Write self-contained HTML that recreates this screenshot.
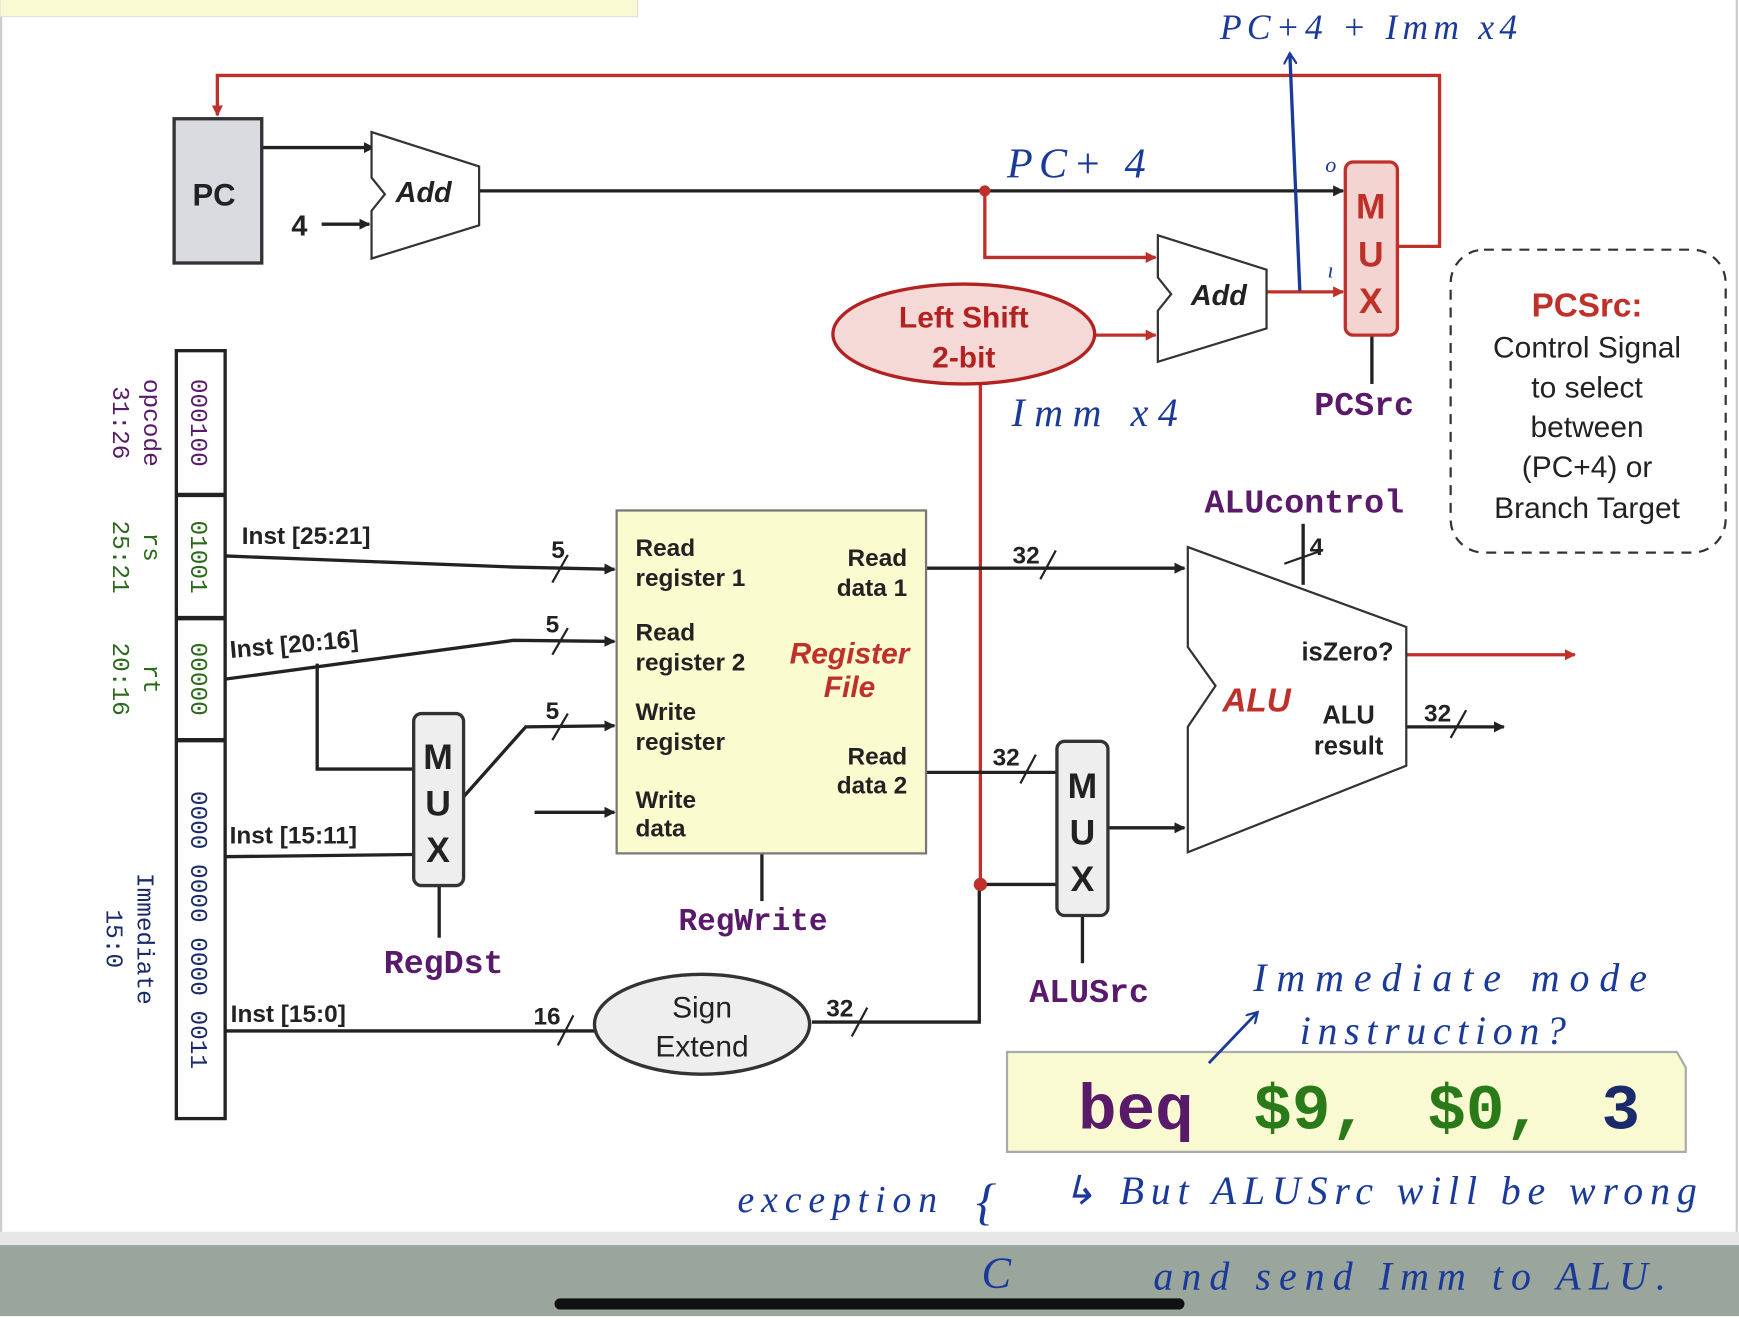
<!DOCTYPE html>
<html><head><meta charset="utf-8"><style>
html,body{margin:0;padding:0;background:#fff;}
svg{display:block;}
.b{font-family:"Liberation Sans",sans-serif;font-weight:bold;}
.m{font-family:"Liberation Mono",monospace;font-weight:bold;}
.h{font-family:"Liberation Serif",serif;font-style:italic;fill:#1a3a9a;}
</style></head><body>
<svg width="1739" height="1325" viewBox="0 0 1568 1194" preserveAspectRatio="none" xmlns="http://www.w3.org/2000/svg">
<defs>
<marker id="ak" markerWidth="10" markerHeight="10" refX="9" refY="5" orient="auto" markerUnits="userSpaceOnUse"><path d="M0,0 L10,5 L0,10 z" fill="#222"/></marker>
<marker id="ar" markerWidth="10" markerHeight="10" refX="9" refY="5" orient="auto" markerUnits="userSpaceOnUse"><path d="M0,0 L10,5 L0,10 z" fill="#c0302a"/></marker>
<marker id="ab" markerWidth="12" markerHeight="12" refX="10" refY="6" orient="auto" markerUnits="userSpaceOnUse"><path d="M0,0 L10,6 L0,12" fill="none" stroke="#1a3a9a" stroke-width="2"/></marker>
</defs>
<rect x="0" y="0" width="1568" height="1194" fill="#fff"/>
<line x1="1" y1="0" x2="1" y2="1112" stroke="#ccc" stroke-width="2"/>
<line x1="1566" y1="0" x2="1566" y2="1112" stroke="#ccc" stroke-width="2"/>
<rect x="0" y="-2" width="575" height="17" fill="#fafad2" stroke="#ddd"/>
<rect x="0" y="1110" width="1568" height="12" fill="#e6e6e6"/>
<rect x="0" y="1122" width="1568" height="64" fill="#9aa59c"/>
<rect x="500" y="1170" width="568" height="10" rx="5" fill="#111"/>

<g fill="none" stroke-width="3">
<path d="M1260,222 H1298 V68 H196 V104" stroke="#c0302a" marker-end="url(#ar)"/>
<line x1="236" y1="133" x2="337" y2="133" stroke="#222" marker-end="url(#ak)"/>
<line x1="290" y1="202" x2="333" y2="202" stroke="#222" marker-end="url(#ak)"/>
<line x1="432" y1="172" x2="1211" y2="172" stroke="#222" marker-end="url(#ak)"/>
<path d="M888,172 V232 H1042" stroke="#c0302a" marker-end="url(#ar)"/>
<line x1="1142" y1="263" x2="1211" y2="263" stroke="#c0302a" marker-end="url(#ar)"/>
<line x1="988" y1="302" x2="1042" y2="302" stroke="#c0302a" marker-end="url(#ar)"/>
<line x1="884" y1="346" x2="884" y2="797" stroke="#c0302a"/>
<path d="M732,921 H883 V797 H953" stroke="#222"/>
<line x1="1237" y1="302" x2="1237" y2="346" stroke="#222"/>
<path d="M203,501 L463,511 L554,513" stroke="#222" marker-end="url(#ak)"/>
<path d="M203,612 L463,577 L554,578" stroke="#222" marker-end="url(#ak)"/>
<path d="M286,598 V693 H373" stroke="#222"/>
<path d="M418,718 L474,655 L554,654" stroke="#222" marker-end="url(#ak)"/>
<line x1="203" y1="772" x2="373" y2="770" stroke="#222"/>
<line x1="396" y1="798" x2="396" y2="845" stroke="#222"/>
<line x1="482" y1="732" x2="554" y2="732" stroke="#222" marker-end="url(#ak)"/>
<line x1="687" y1="769" x2="687" y2="812" stroke="#222"/>
<line x1="835" y1="512" x2="1068" y2="512" stroke="#222" marker-end="url(#ak)"/>
<line x1="835" y1="696" x2="953" y2="696" stroke="#222"/>
<line x1="976" y1="825" x2="976" y2="868" stroke="#222"/>
<line x1="999" y1="746" x2="1068" y2="746" stroke="#222" marker-end="url(#ak)"/>
<line x1="1175" y1="472" x2="1175" y2="527" stroke="#222"/>
<line x1="1268" y1="590" x2="1420" y2="590" stroke="#c0302a" marker-end="url(#ar)"/>
<line x1="1268" y1="655" x2="1356" y2="655" stroke="#222" marker-end="url(#ak)"/>
<line x1="203" y1="929" x2="536" y2="929" stroke="#222"/>
</g>
<g stroke="#222" stroke-width="2">
<line x1="498" y1="525" x2="512" y2="500"/><line x1="498" y1="590" x2="512" y2="566"/><line x1="498" y1="667" x2="512" y2="643"/>
<line x1="938" y1="522" x2="952" y2="496"/><line x1="920" y1="706" x2="934" y2="680"/>
<line x1="1158" y1="508" x2="1192" y2="496"/>
<line x1="1308" y1="665" x2="1322" y2="640"/>
<line x1="503" y1="942" x2="517" y2="915"/><line x1="768" y1="934" x2="782" y2="908"/>
</g>
<circle cx="888" cy="172" r="5" fill="#c0302a"/>
<circle cx="884" cy="797" r="6" fill="#c0302a"/>

<rect x="157" y="107" width="79" height="130" fill="#d9dbe0" stroke="#333" stroke-width="3"/>
<text x="193" y="185" class="b" font-size="28" text-anchor="middle" fill="#222">PC</text>
<text x="270" y="212" class="b" font-size="26" text-anchor="middle" fill="#222">4</text>
<polygon points="335,119 432,150 432,203 335,233 335,190 347,175 335,160" fill="#fff" stroke="#333" stroke-width="2"/>
<text x="382" y="182" class="b" font-size="26" font-style="italic" text-anchor="middle" fill="#222">Add</text>
<polygon points="1044,212 1142,243 1142,296 1044,326 1044,280 1056,265 1044,250" fill="#fff" stroke="#333" stroke-width="2"/>
<text x="1099" y="275" class="b" font-size="26" font-style="italic" text-anchor="middle" fill="#222">Add</text>

<rect x="1213" y="146" width="47" height="156" rx="7" fill="#f3d4d0" stroke="#c0302a" stroke-width="3"/>
<g class="b" font-size="32" fill="#c0302a" text-anchor="middle"><text x="1236" y="197">M</text><text x="1236" y="240">U</text><text x="1236" y="282">X</text></g>
<text x="1230" y="374" class="m" font-size="30" text-anchor="middle" fill="#5a1a6a">PCSrc</text>

<ellipse cx="869" cy="301" rx="118" ry="45" fill="#f5d9d6" stroke="#b22222" stroke-width="3"/>
<text x="869" y="295" class="b" font-size="27" text-anchor="middle" fill="#b22222">Left Shift</text>
<text x="869" y="331" class="b" font-size="27" text-anchor="middle" fill="#b22222">2-bit</text>

<rect x="1308" y="225" width="248" height="273" rx="30" fill="none" stroke="#333" stroke-width="2" stroke-dasharray="9,7"/>
<text x="1431" y="285" class="b" font-size="30" text-anchor="middle" fill="#c0302a">PCSrc:</text>
<g font-family="Liberation Sans,sans-serif" font-size="27" text-anchor="middle" fill="#222">
<text x="1431" y="322">Control Signal</text><text x="1431" y="358">to select</text><text x="1431" y="394">between</text><text x="1431" y="430">(PC+4) or</text><text x="1431" y="467">Branch Target</text></g>

<rect x="159" y="316" width="44" height="692" fill="#fff" stroke="#222" stroke-width="3"/>
<g stroke="#222" stroke-width="4"><line x1="159" y1="446" x2="203" y2="446"/><line x1="159" y1="557" x2="203" y2="557"/><line x1="159" y1="667" x2="203" y2="667"/></g>
<g font-family="Liberation Mono,monospace" font-size="22">
<text transform="translate(172,381) rotate(90)" text-anchor="middle" fill="#5a1a6a">000100</text>
<text transform="translate(172,502) rotate(90)" text-anchor="middle" fill="#2a6a1a">01001</text>
<text transform="translate(172,612) rotate(90)" text-anchor="middle" fill="#2a6a1a">00000</text>
<text transform="translate(172,838) rotate(90)" text-anchor="middle" fill="#1a2a6a">0000 0000 0000 0011</text>
<text transform="translate(130,381) rotate(90)" text-anchor="middle" fill="#5a1a6a">opcode</text>
<text transform="translate(102,381) rotate(90)" text-anchor="middle" fill="#5a1a6a">31:26</text>
<text transform="translate(130,493) rotate(90)" text-anchor="middle" fill="#2a6a1a">rs</text>
<text transform="translate(102,502) rotate(90)" text-anchor="middle" fill="#2a6a1a">25:21</text>
<text transform="translate(130,612) rotate(90)" text-anchor="middle" fill="#2a6a1a">rt</text>
<text transform="translate(102,612) rotate(90)" text-anchor="middle" fill="#2a6a1a">20:16</text>
<text transform="translate(124,846) rotate(90)" text-anchor="middle" fill="#1a2a6a">Immediate</text>
<text transform="translate(96,846) rotate(90)" text-anchor="middle" fill="#1a2a6a">15:0</text>
</g>
<g class="b" font-size="22" fill="#222">
<text x="218" y="490">Inst [25:21]</text>
<text x="208" y="593" transform="rotate(-5 208 593)">Inst [20:16]</text>
<text x="207" y="760">Inst [15:11]</text>
<text x="208" y="921">Inst [15:0]</text>
<text x="497" y="503">5</text><text x="492" y="570">5</text><text x="492" y="648">5</text>
<text x="913" y="508">32</text><text x="895" y="690">32</text><text x="1284" y="650">32</text>
<text x="481" y="923">16</text><text x="745" y="916">32</text><text x="1181" y="500">4</text>
</g>

<rect x="373" y="643" width="45" height="155" rx="7" fill="#eee" stroke="#333" stroke-width="3"/>
<g class="b" font-size="32" fill="#222" text-anchor="middle"><text x="395" y="693">M</text><text x="395" y="735">U</text><text x="395" y="777">X</text></g>
<text x="400" y="877" class="m" font-size="30" text-anchor="middle" fill="#5a1a6a">RegDst</text>

<rect x="556" y="460" width="279" height="309" fill="#fbfbd0" stroke="#777" stroke-width="2"/>
<g class="b" font-size="22" fill="#222">
<text x="573" y="501">Read</text><text x="573" y="528">register 1</text>
<text x="573" y="577">Read</text><text x="573" y="604">register 2</text>
<text x="573" y="649">Write</text><text x="573" y="676">register</text>
<text x="573" y="728">Write</text><text x="573" y="754">data</text>
<text x="818" y="510" text-anchor="end">Read</text><text x="818" y="537" text-anchor="end">data 1</text>
<text x="818" y="689" text-anchor="end">Read</text><text x="818" y="715" text-anchor="end">data 2</text>
</g>
<text x="766" y="598" class="b" font-size="27" font-style="italic" text-anchor="middle" fill="#c0302a">Register</text>
<text x="766" y="628" class="b" font-size="27" font-style="italic" text-anchor="middle" fill="#c0302a">File</text>
<text x="679" y="838" class="m" font-size="28" text-anchor="middle" fill="#5a1a6a">RegWrite</text>

<rect x="953" y="668" width="46" height="157" rx="7" fill="#eee" stroke="#333" stroke-width="3"/>
<g class="b" font-size="32" fill="#222" text-anchor="middle"><text x="976" y="719">M</text><text x="976" y="761">U</text><text x="976" y="803">X</text></g>
<text x="982" y="903" class="m" font-size="30" text-anchor="middle" fill="#5a1a6a">ALUSrc</text>

<polygon points="1071,493 1268,565 1268,690 1071,768 1071,655 1096,618 1071,583" fill="#fff" stroke="#333" stroke-width="2"/>
<text x="1133" y="641" class="b" font-size="30" font-style="italic" text-anchor="middle" fill="#c0302a">ALU</text>
<g class="b" font-size="23" fill="#222" text-anchor="middle"><text x="1215" y="595">isZero?</text><text x="1216" y="652">ALU</text><text x="1216" y="680">result</text></g>
<text x="1176" y="462" class="m" font-size="30" text-anchor="middle" fill="#5a1a6a">ALUcontrol</text>

<ellipse cx="633" cy="923" rx="97" ry="45" fill="#eee" stroke="#333" stroke-width="3"/>
<text x="633" y="917" font-family="Liberation Sans,sans-serif" font-size="27" text-anchor="middle" fill="#222">Sign</text>
<text x="633" y="952" font-family="Liberation Sans,sans-serif" font-size="27" text-anchor="middle" fill="#222">Extend</text>

<polygon points="908,948 1512,948 1520,962 1520,1038 908,1038" fill="#fafad2" stroke="#aaa" stroke-width="2"/>
<g font-family="Liberation Mono,monospace" font-weight="bold" font-size="58">
<text x="972" y="1017" fill="#5a1a6a">beq</text>
<text x="1130" y="1017" fill="#2a7a1a">$9,</text>
<text x="1287" y="1017" fill="#2a7a1a">$0,</text>
<text x="1444" y="1017" fill="#1a2a6a">3</text></g>

<path d="M1172,262 L1163,48" stroke="#1a3a9a" stroke-width="3" fill="none" marker-end="url(#ab)"/>
<path d="M1090,958 L1134,912" stroke="#1a3a9a" stroke-width="2.5" fill="none" marker-end="url(#ab)"/>
<text x="908" y="160" class="h" font-size="38" textLength="125">PC+ 4</text>
<text x="1100" y="35" class="h" font-size="32" textLength="268">PC+4 + Imm x4</text>
<text x="912" y="384" class="h" font-size="36" textLength="150">Imm x4</text>
<text x="1195" y="155" class="h" font-size="20">o</text>
<text x="1197" y="250" class="h" font-size="20">ı</text>
<text x="1130" y="893" class="h" font-size="36" textLength="355">Immediate mode</text>
<text x="1172" y="941" class="h" font-size="36" textLength="240">instruction?</text>
<text x="665" y="1092" class="h" font-size="34" textLength="180">exception</text>
<text x="880" y="1098" class="h" font-size="46">{</text>
<text x="958" y="1085" class="h" font-size="36" textLength="572">↳ But ALUSrc will be wrong</text>
<text x="885" y="1160" class="h" font-size="40">C</text>
<text x="1040" y="1162" class="h" font-size="36" textLength="462">and send Imm to ALU.</text>
</svg>
</body></html>
